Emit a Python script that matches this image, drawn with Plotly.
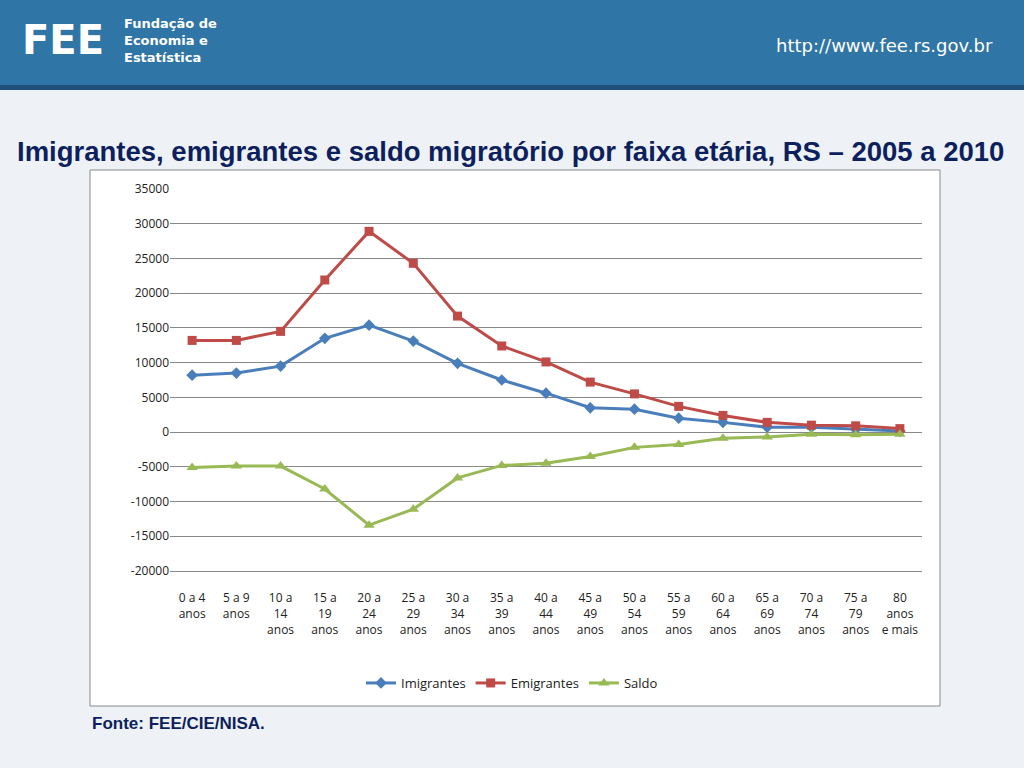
import plotly.graph_objects as go

cats = ["0 a 4<br>anos","5 a 9<br>anos","10 a<br>14<br>anos","15 a<br>19<br>anos","20 a<br>24<br>anos","25 a<br>29<br>anos",
        "30 a<br>34<br>anos","35 a<br>39<br>anos","40 a<br>44<br>anos","45 a<br>49<br>anos","50 a<br>54<br>anos","55 a<br>59<br>anos",
        "60 a<br>64<br>anos","65 a<br>69<br>anos","70 a<br>74<br>anos","75 a<br>79<br>anos","80<br>anos<br>e mais"]
imigrantes = [8200,8500,9500,13500,15400,13100,9900,7500,5600,3500,3300,2000,1400,700,700,400,150]
emigrantes = [13200,13200,14500,21900,28900,24300,16700,12400,10100,7200,5500,3700,2400,1400,1000,900,500]
saldo = [-5100,-4900,-4900,-8200,-13400,-11100,-6600,-4800,-4500,-3500,-2200,-1800,-900,-700,-300,-400,-300]
yticks = [35000,30000,25000,20000,15000,10000,5000,0,-5000,-10000,-15000,-20000]
yticklabels = [str(v) for v in yticks]

W, H = 1024, 768
def px(x): return x / W
def py(y): return 1 - y / H

fig = go.Figure()
fig.add_trace(go.Scatter(x=cats, y=imigrantes, name="Imigrantes", mode="lines+markers",
    line=dict(color="#4a7ebb", width=3), marker=dict(symbol="diamond", size=9, color="#4a7ebb")))
fig.add_trace(go.Scatter(x=cats, y=emigrantes, name="Emigrantes", mode="lines+markers",
    line=dict(color="#be4b48", width=3), marker=dict(symbol="square", size=9, color="#be4b48")))
fig.add_trace(go.Scatter(x=cats, y=saldo, name="Saldo", mode="lines+markers",
    line=dict(color="#98b954", width=3), marker=dict(symbol="triangle-up", size=10, color="#98b954")))

shapes = [
    dict(type="rect", xref="paper", yref="paper", x0=0, x1=1, y0=py(768), y1=py(85), fillcolor="#eef2f7", line_width=0, layer="below"),
    dict(type="rect", xref="paper", yref="paper", x0=0, x1=1, y0=py(85), y1=py(0), fillcolor="#2f75a6", line_width=0, layer="below"),
    dict(type="rect", xref="paper", yref="paper", x0=0, x1=1, y0=py(90), y1=py(85), fillcolor="#1d4f7a", line_width=0, layer="below"),
    dict(type="rect", xref="paper", yref="paper", x0=px(90), x1=px(940), y0=py(706), y1=py(170), fillcolor="white", line=dict(color="#888", width=1), layer="below"),
]
def ann(text, x, y, size, color, family, xanchor="center", align="center"):
    return dict(text=text, xref="paper", yref="paper", x=px(x), y=py(y), xanchor=xanchor, yanchor="middle",
                align=align, showarrow=False, font=dict(size=size, color=color, family=family))

fig.update_layout(
    width=W, height=H, margin=dict(l=0, r=0, t=0, b=0, pad=0, autoexpand=False), paper_bgcolor="white", plot_bgcolor="white",
    shapes=shapes, font=dict(family="Open Sans, sans-serif", size=12, color="#222"),
    xaxis=dict(domain=[px(170), px(922)], anchor="y", range=[-0.5, len(cats) - 0.5], showgrid=False, showline=True, linecolor="#888",
               ticks="outside", ticklen=16, tickcolor="rgba(0,0,0,0)", tickfont=dict(size=12), automargin=False),
    yaxis=dict(domain=[py(571), py(189)], range=[-20000, 35000], tickvals=yticks, ticktext=yticklabels, automargin=False,
               showgrid=True, gridcolor="#888", zeroline=False, tickfont=dict(size=12), ticks="", showline=False),
    legend=dict(orientation="h", x=0.5, xanchor="center", y=py(683), yanchor="middle", font=dict(size=13)),
    annotations=[
        ann("<b>Imigrantes, emigrantes e saldo migratório por faixa etária, RS – 2005 a 2010</b>", 510, 151, 27.5, "#0d1f5c", "Liberation Sans, Arial"),
        ann("<b>Fonte: FEE/CIE/NISA.</b>", 90, 723, 17, "#0d1f5c", "Liberation Sans, Arial", xanchor="left"),
        ann("http://www.fee.rs.gov.br", 995, 45, 18, "white", "DejaVu Sans", xanchor="right"),
        ann("<b>FEE</b>", 20, 40, 40, "white", "DejaVu Sans", xanchor="left"),
        ann("<b>Fundação de<br>Economia e<br>Estatística</b>", 122, 40, 13, "white", "DejaVu Sans", xanchor="left", align="left"),
    ],
)
fig.write_html("out.html", config={"displayModeBar": False})
with open("out.html", encoding="utf-8") as f:
    html = f.read()
html = html.replace("<head>", "<head><style>html,body{margin:0;padding:0;overflow:hidden}</style>", 1)
with open("out.html", "w", encoding="utf-8") as f:
    f.write(html)
